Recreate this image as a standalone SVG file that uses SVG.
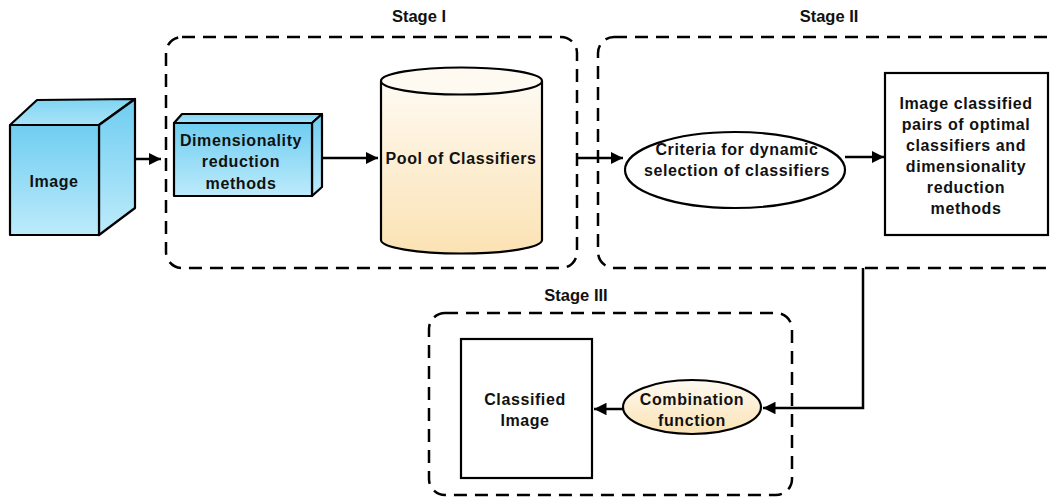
<svg xmlns="http://www.w3.org/2000/svg" width="1051" height="497" viewBox="0 0 1051 497">
  <style>
    text { font-family: "Liberation Sans", Arial, sans-serif; font-weight: bold; fill: #111; text-anchor: middle; }
    .lbl { font-size: 16px; letter-spacing: 0.6px; }
    .stage { font-size: 16.5px; }
    .edge { stroke: #000; stroke-width: 2.5; fill: none; }
    .stagebox { stroke: #000; stroke-width: 2.5; fill: none; stroke-dasharray: 13 8; }
    .plain { fill: #fff; stroke: #000; stroke-width: 2.2; }
    .solid { stroke: #000; stroke-width: 2.2; stroke-linejoin: round; }
  </style>
  <defs>
    <linearGradient id="blueFace" x1="0" y1="0" x2="0" y2="1">
      <stop offset="0" stop-color="#6fcdf1"/>
      <stop offset="1" stop-color="#bdebfb"/>
    </linearGradient>
    <linearGradient id="blueTop" x1="0" y1="0" x2="0" y2="1">
      <stop offset="0" stop-color="#7fd5f3"/>
      <stop offset="1" stop-color="#a9e3f7"/>
    </linearGradient>
    <linearGradient id="cream" x1="0" y1="0" x2="0" y2="1">
      <stop offset="0" stop-color="#fefaf2"/>
      <stop offset="1" stop-color="#fbe2b3"/>
    </linearGradient>
    <marker id="arrow" viewBox="0 0 10 10" refX="10" refY="5" markerWidth="5" markerHeight="5" orient="auto-start-reverse">
      <path d="M0,0 L10,5 L0,10 z" fill="#000"/>
    </marker>
  </defs>

  <!-- stage frames -->
  <g id="stage-1">
    <rect class="stagebox" x="166" y="37" width="411" height="231" rx="16"/>
    <text class="stage" x="419" y="22">Stage I</text>
  </g>
  <g id="stage-2">
    <rect class="stagebox" x="598" y="37" width="470" height="231" rx="16"/>
    <text class="stage" x="829" y="22">Stage II</text>
  </g>
  <g id="stage-3">
    <rect class="stagebox" x="429" y="313" width="363" height="182" rx="16"/>
    <text class="stage" x="576" y="301">Stage III</text>
  </g>

  <!-- connectors -->
  <g id="connectors">
    <line class="edge" x1="136" y1="159" x2="161" y2="159" marker-end="url(#arrow)"/>
    <line class="edge" x1="322" y1="158" x2="378" y2="158" marker-end="url(#arrow)"/>
    <line class="edge" x1="577" y1="158" x2="623" y2="158" marker-end="url(#arrow)"/>
    <line class="edge" x1="845" y1="157" x2="884" y2="157" marker-end="url(#arrow)"/>
    <polyline class="edge" points="863,268 863,408 763,408" marker-end="url(#arrow)"/>
    <line class="edge" x1="623" y1="409" x2="594" y2="409" marker-end="url(#arrow)"/>
  </g>

  <!-- input image cube -->
  <g id="image">
    <polygon class="solid" points="10,125 37,100 135,99 99,125" fill="url(#blueTop)"/>
    <polygon class="solid" points="99,125 135,99 135,208 99,235" fill="url(#blueFace)"/>
    <rect class="solid" x="10" y="125" width="89" height="110" fill="url(#blueFace)"/>
    <text class="lbl" x="54" y="187">Image</text>
  </g>

  <!-- dimensionality reduction block -->
  <g id="dim-reduction">
    <polygon class="solid" points="174,123 182,114 322,114 312,123" fill="url(#blueTop)"/>
    <polygon class="solid" points="312,123 322,114 322,187 312,196" fill="url(#blueFace)"/>
    <rect class="solid" x="174" y="123" width="138" height="73" fill="url(#blueFace)"/>
    <text class="lbl" x="241" y="146">Dimensionality</text>
    <text class="lbl" x="241" y="167">reduction</text>
    <text class="lbl" x="241" y="189">methods</text>
  </g>

  <!-- classifier pool cylinder -->
  <g id="pool">
    <path class="solid" d="M381,81 L381,240 A80.5,13.5 0 0 0 542,240 L542,81" fill="url(#cream)"/>
    <ellipse class="solid" cx="461.5" cy="81" rx="80.5" ry="13.5" fill="#fefaf2"/>
    <text class="lbl" x="461" y="164">Pool of Classifiers</text>
  </g>

  <!-- selection criteria -->
  <g id="criteria">
    <ellipse cx="735" cy="170" rx="110" ry="38" fill="#fff" stroke="#000" stroke-width="2.2"/>
    <text class="lbl" x="737" y="155">Criteria for dynamic</text>
    <text class="lbl" x="737" y="176">selection of classifiers</text>
  </g>

  <!-- selected pairs -->
  <g id="pairs">
    <rect class="plain" x="885" y="73" width="163" height="162"/>
    <text class="lbl" x="966" y="109">Image classified</text>
    <text class="lbl" x="966" y="130">pairs of optimal</text>
    <text class="lbl" x="966" y="151">classifiers and</text>
    <text class="lbl" x="966" y="172">dimensionality</text>
    <text class="lbl" x="966" y="193">reduction</text>
    <text class="lbl" x="966" y="214">methods</text>
  </g>

  <!-- combination -->
  <g id="combination">
    <ellipse cx="692" cy="407" rx="69" ry="27" fill="url(#cream)" stroke="#000" stroke-width="2.2"/>
    <text class="lbl" x="692" y="405">Combination</text>
    <text class="lbl" x="692" y="426">function</text>
  </g>

  <!-- final output -->
  <g id="classified-image">
    <rect class="plain" x="461" y="339" width="131" height="139"/>
    <text class="lbl" x="525" y="405">Classified</text>
    <text class="lbl" x="525" y="426">Image</text>
  </g>
</svg>
